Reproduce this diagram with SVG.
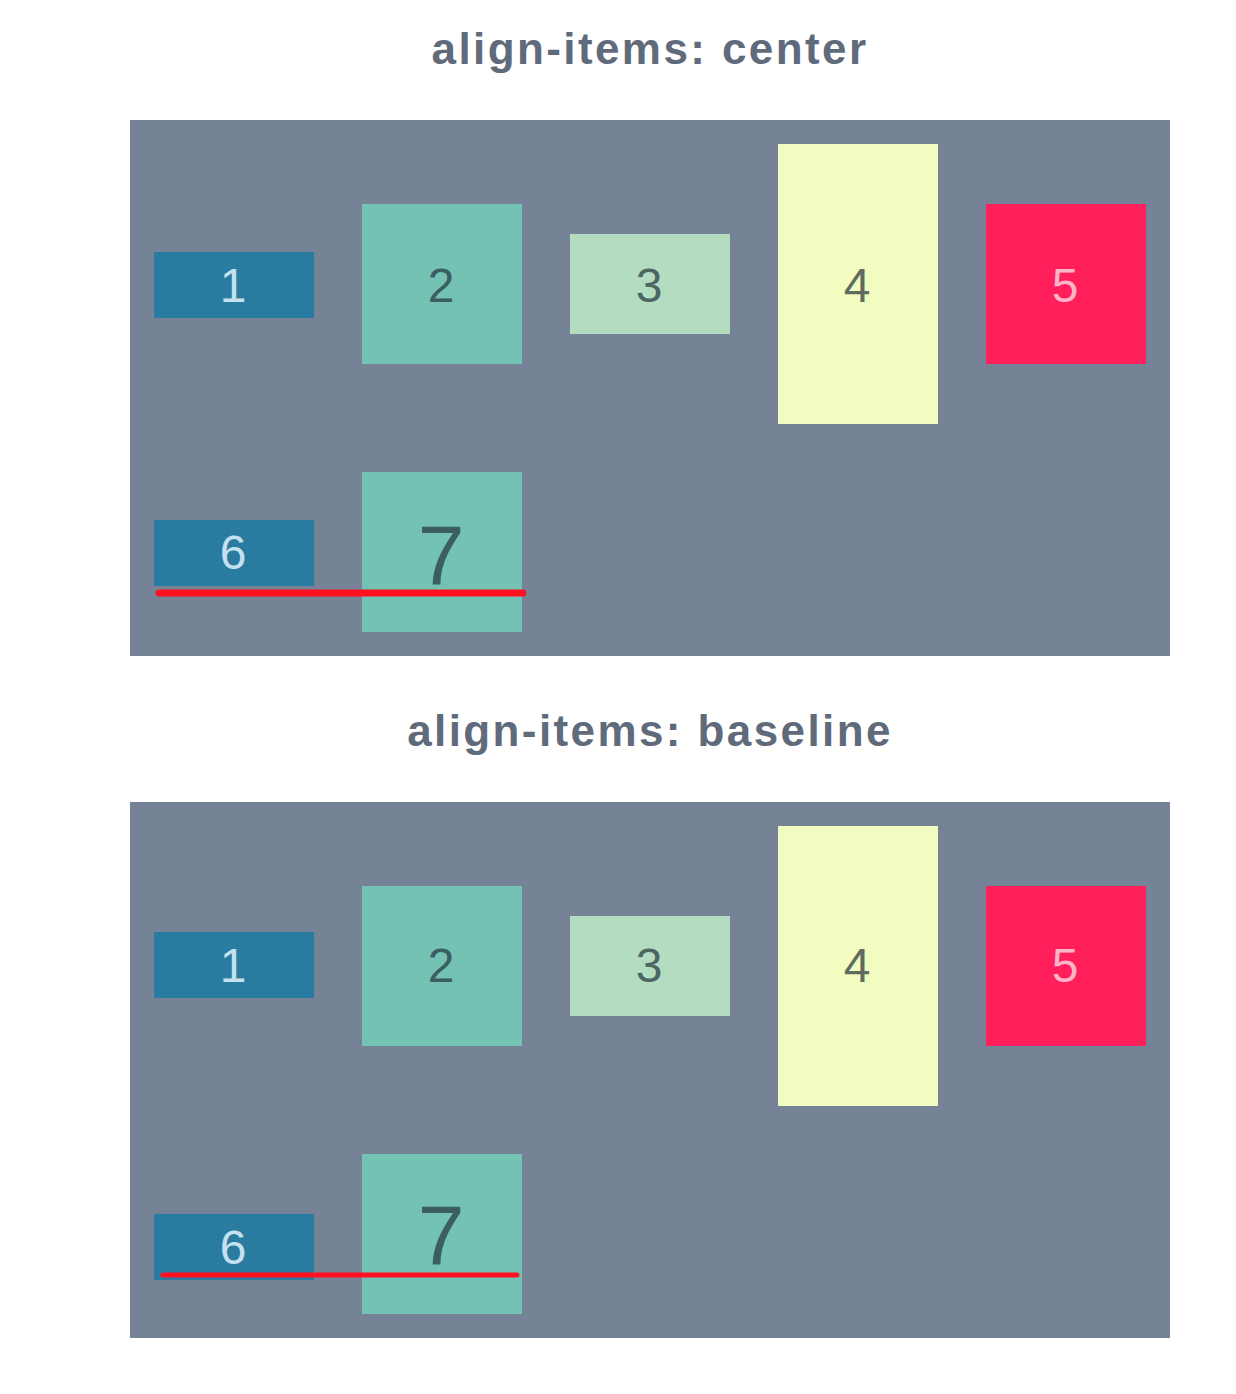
<svg xmlns="http://www.w3.org/2000/svg" width="1236" height="1394" viewBox="0 0 1236 1394">
<style>
.title{font-family:"Liberation Sans",Arial,sans-serif;font-weight:bold;font-size:44px;fill:#5f6b7a;text-anchor:middle;letter-spacing:2.4px}
.cont{fill:#768396}
.num{font-family:"Liberation Sans",Arial,sans-serif;font-size:48px;text-anchor:middle}
.big{font-size:84px}
.b1{fill:#2a7ba0}.t1{fill:#c5e0ef}
.b2{fill:#73c2b3}.t2{fill:#3b5f61}
.b3{fill:#b3dcc1}.t3{fill:#4d6662}
.b4{fill:#f3fcc0}.t4{fill:#5e6b60}
.b5{fill:#ff1f5a}.t5{fill:#ffb3c8}
.base{stroke:#ff1020;stroke-linecap:round;fill:none}
</style>
<rect width="1236" height="1394" fill="#ffffff"/>
<text class="title" x="650" y="64">align-items: center</text>
<rect class="cont" x="130" y="120" width="1040" height="536"/>
<g id="c1"><rect class="b1" x="154" y="252" width="160" height="66"/><text class="num t1" x="233" y="302">1</text></g>
<g id="c2"><rect class="b2" x="362" y="204" width="160" height="160"/><text class="num t2" x="441" y="302">2</text></g>
<g id="c3"><rect class="b3" x="570" y="234" width="160" height="100"/><text class="num t3" x="649" y="302">3</text></g>
<g id="c4"><rect class="b4" x="778" y="144" width="160" height="280"/><text class="num t4" x="857" y="302">4</text></g>
<g id="c5"><rect class="b5" x="986" y="204" width="160" height="160"/><text class="num t5" x="1065" y="302">5</text></g>
<g id="c6"><rect class="b1" x="154" y="520" width="160" height="66"/><text class="num t1" x="233" y="569">6</text></g>
<g id="c7"><rect class="b2" x="362" y="472" width="160" height="160"/><text class="num big t2" x="441" y="584">7</text></g>
<text class="title" x="650" y="746">align-items: baseline</text>
<rect class="cont" x="130" y="802" width="1040" height="536"/>
<g id="b1n"><rect class="b1" x="154" y="932" width="160" height="66"/><text class="num t1" x="233" y="982">1</text></g>
<g id="b2n"><rect class="b2" x="362" y="886" width="160" height="160"/><text class="num t2" x="441" y="982">2</text></g>
<g id="b3n"><rect class="b3" x="570" y="916" width="160" height="100"/><text class="num t3" x="649" y="982">3</text></g>
<g id="b4n"><rect class="b4" x="778" y="826" width="160" height="280"/><text class="num t4" x="857" y="982">4</text></g>
<g id="b5n"><rect class="b5" x="986" y="886" width="160" height="160"/><text class="num t5" x="1065" y="982">5</text></g>
<g id="b6n"><rect class="b1" x="154" y="1214" width="160" height="66"/><text class="num t1" x="233" y="1264">6</text></g>
<g id="b7n"><rect class="b2" x="362" y="1154" width="160" height="160"/><text class="num big t2" x="441" y="1264">7</text></g>
<g id="lines">
<line class="base" x1="159" y1="593" x2="523" y2="593" stroke-width="7"/>
<line class="base" x1="163" y1="1275" x2="517" y2="1275" stroke-width="5"/>
</g>
</svg>
